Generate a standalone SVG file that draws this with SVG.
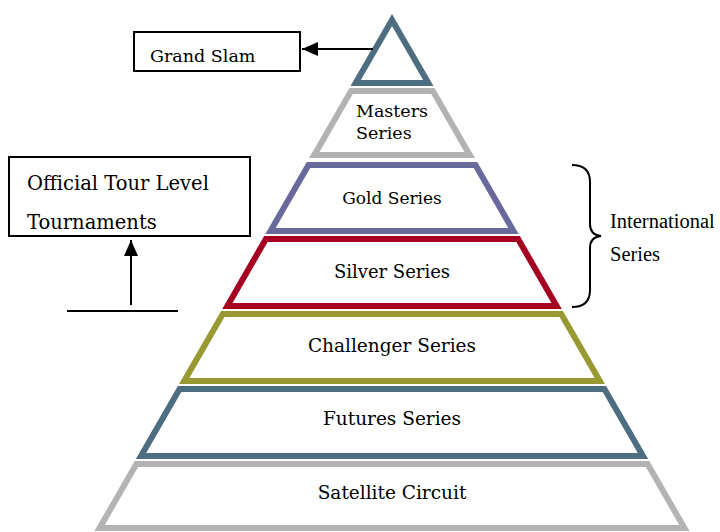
<svg xmlns="http://www.w3.org/2000/svg" width="720" height="532" viewBox="0 0 720 532">
  <defs>
    <marker id="ah" viewBox="0 0 16 14" refX="16" refY="7" markerWidth="16" markerHeight="14" markerUnits="userSpaceOnUse" orient="auto">
      <path d="M0,0 L16,7 L0,14 Z" fill="#000"/>
    </marker>
  </defs>
  <style>
    .tier { fill: #fff; stroke-width: 6; stroke-linejoin: miter; }
    .lbl { font-family: "DejaVu Serif", "Liberation Serif", serif; font-size: 17px; fill: #000; }
    .big { font-size: 18.5px; }
    .ctr { text-anchor: middle; }
    .box { fill: #fff; stroke: #000; stroke-width: 2; }
    .conn { stroke: #000; stroke-width: 2; fill: none; }
    .times { font-family: "Liberation Serif", "Times New Roman", serif; font-size: 20.5px; fill: #000; }
  </style>
  <rect width="720" height="532" fill="#fff"/>

  <g id="grand-slam-tier">
    <polygon class="tier" stroke="#4d6d80" points="392,20 428.3,83 355.7,83"/>
  </g>
  <g id="masters-series">
    <polygon class="tier" stroke="#b3b3b3" points="351.1,91 432.9,91 469.7,155 314.3,155"/>
    <text class="lbl" x="356" y="117" style="font-size:17.5px">Masters</text>
    <text class="lbl" x="356" y="139" style="font-size:17.5px">Series</text>
  </g>
  <g id="gold-series">
    <polygon class="tier" stroke="#69699c" points="308.5,165 475.5,165 513.5,231 270.5,231"/>
    <text class="lbl ctr" x="392" y="204">Gold Series</text>
  </g>
  <g id="silver-series">
    <polygon class="tier" stroke="#a50021" points="265.9,239 518.1,239 556.6,306 227.4,306"/>
    <text class="lbl ctr" x="392" y="278" style="font-size:18px">Silver Series</text>
  </g>
  <g id="challenger-series">
    <polygon class="tier" stroke="#999933" points="222.8,314 561.2,314 599.8,381 184.2,381"/>
    <text class="lbl big ctr" x="392" y="352">Challenger Series</text>
  </g>
  <g id="futures-series">
    <polygon class="tier" stroke="#4d6d80" points="179.6,389 604.4,389 643,456 141,456"/>
    <text class="lbl big ctr" x="392" y="425">Futures Series</text>
  </g>
  <g id="satellite-circuit">
    <polygon class="tier" stroke="#b3b3b3" points="136.4,464 647.6,464 684.4,528 99.6,528"/>
    <text class="lbl big ctr" x="392" y="499">Satellite Circuit</text>
  </g>

  <g id="grand-slam">
    <rect class="box" x="134" y="32" width="166" height="39"/>
    <text class="lbl" x="150" y="62" style="font-size:17.5px">Grand Slam</text>
  </g>
  <g id="official-tour">
    <rect class="box" x="9" y="157" width="241" height="79"/>
    <text class="lbl" x="27" y="190" style="font-size:19.5px">Official Tour Level</text>
    <text class="lbl" x="27" y="229" style="font-size:19.5px">Tournaments</text>
  </g>
  <g id="international-series">
    <text class="times" x="610" y="228">International</text>
    <text class="times" x="610" y="261">Series</text>
  </g>

  <g id="connectors">
    <line class="conn" x1="373" y1="49" x2="302" y2="49" marker-end="url(#ah)"/>
    <line class="conn" x1="131" y1="305" x2="131" y2="240" marker-end="url(#ah)"/>
    <line class="conn" x1="67" y1="311" x2="178" y2="311"/>
    <path class="conn" d="M572,165 Q590,165 590,182 L590,224 Q590,235 601,236 Q590,237 590,248 L590,290 Q590,307 572,307"/>
  </g>
</svg>
